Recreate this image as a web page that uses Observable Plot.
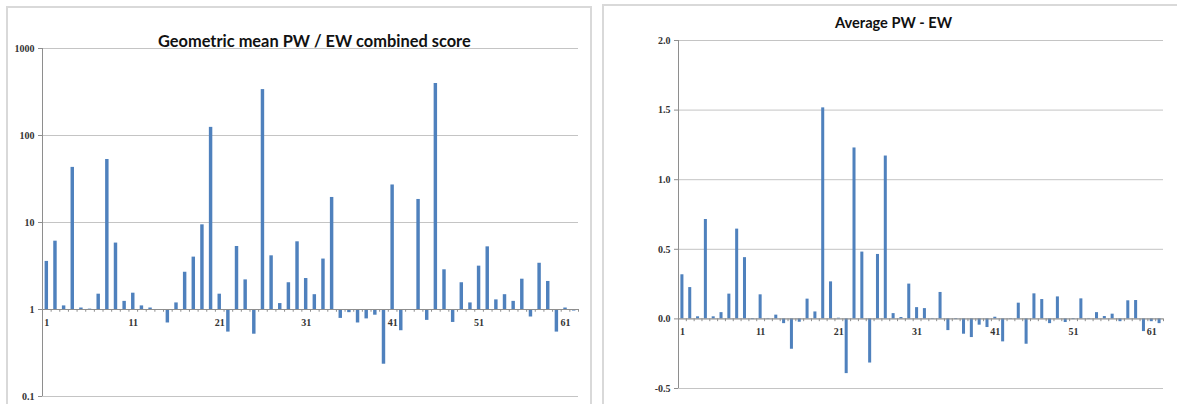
<!DOCTYPE html>
<html><head><meta charset="utf-8">
<script src="https://cdn.jsdelivr.net/npm/d3@7"></script>
<script src="https://cdn.jsdelivr.net/npm/@observablehq/plot@0.6"></script>
<style>
html,body{margin:0;padding:0;background:#fff}
body{width:1177px;height:404px;overflow:hidden;position:relative;font-family:Lato,sans-serif}
.panel{position:absolute;border:2px solid #d9d9d9;background:#fff;box-sizing:border-box}
.chart{position:absolute;top:0}
.title{position:absolute;font-weight:bold;white-space:nowrap;color:#111;line-height:1;font-family:Lato,"Open Sans",sans-serif}
</style></head><body>
<div class="panel" style="left:6px;top:6px;width:586px;height:420px"></div>
<div class="panel" style="left:602px;top:4px;width:600px;height:420px"></div>
<div id="left" class="chart" style="left:0px"></div>
<div id="right" class="chart" style="left:600px"></div>
<div class="title" style="left:158px;top:33px;font-size:16.4px">Geometric mean PW / EW combined score</div>
<div class="title" style="left:835px;top:16px;font-size:14.6px">Average PW - EW</div>
<script>
const categories = [1,2,3,4,5,6,7,8,9,10,11,12,13,14,15,16,17,18,19,20,21,22,23,24,25,26,27,28,29,30,31,32,33,34,35,36,37,38,39,40,41,42,43,44,45,46,47,48,49,50,51,52,53,54,55,56,57,58,59,60,61,62];
const geoMeanScore = [3.57,6.1,1.1,43,1.04,1.01,1.5,53,5.8,1.24,1.54,1.1,1.04,0.98,0.70,1.19,2.68,4.0,9.4,124,1.5,0.55,5.3,2.19,0.52,337,4.14,1.17,2.03,6.0,2.27,1.48,3.8,19.4,0.79,0.92,0.70,0.78,0.86,0.235,27,0.57,0.98,18.4,0.75,396,2.86,0.71,2.03,1.19,3.15,5.25,1.29,1.48,1.24,2.23,0.82,3.4,2.1,0.55,1.04,0.96];
const avgDiff = [0.317,0.225,0.015,0.714,0.015,0.045,0.178,0.645,0.44,-0.005,0.173,0.003,0.027,-0.034,-0.218,-0.024,0.142,0.05,1.516,0.266,0.005,-0.393,1.228,0.48,-0.317,0.463,1.17,0.038,0.01,0.25,0.081,0.074,0.003,0.19,-0.084,-0.005,-0.11,-0.134,-0.045,-0.062,0.012,-0.165,-0.003,0.113,-0.182,0.18,0.139,-0.034,0.158,-0.026,-0.005,0.144,0.003,0.045,0.017,0.034,-0.02,0.13,0.132,-0.091,-0.02,-0.034];
const xTickLabels = [1,11,21,31,41,51,61];
const leftTicks = [0.1,1,10,100,1000];
const rightTicks = [-0.5,0,0.5,1.0,1.5,2.0];

const barColor = "#4f81bd";
const gridColor = "#c4c4c4";
const axisColor = "#8e8e8e";
const fontFam = "Liberation Serif, DejaVu Serif, serif";

const leftData = categories.map((c,i)=>({cat:c, v:geoMeanScore[i]}));
const rightData = categories.map((c,i)=>({cat:c, v:avgDiff[i]}));
const boundaries = categories.map(c=>c-0.5).concat([categories[categories.length-1]+0.5]);

const left = Plot.plot({
  width: 600, height: 404,
  marginLeft: 42, marginRight: 22, marginTop: 48, marginBottom: 8,
  x: {type: "linear", domain: [0.5, 62.5], axis: null},
  y: {type: "log", domain: [0.1, 1000], axis: null},
  style: {background: "transparent", overflow: "visible"},
  marks: [
    Plot.ruleY(leftTicks, {stroke: gridColor}),
    Plot.ruleX([0.5], {stroke: axisColor}),
    Plot.axisY(leftTicks, {label: null, tickFormat: d => String(d), tickSize: 4, tickPadding: 4, fontSize: 10, fontFamily: fontFam, fontWeight: "bold", stroke: axisColor, fill: "#333"}),
    Plot.rectY(leftData, {x1: d => d.cat - 0.5, x2: d => d.cat + 0.5, y1: 1, y2: "v", insetLeft: 2.6, insetRight: 2.6, fill: barColor}),
    Plot.ruleY([1], {stroke: axisColor}),
    Plot.ruleX(boundaries, {y1: 1, y2: 0.93, stroke: axisColor}),
    Plot.text(xTickLabels, {x: d => d, y: 1, dy: 13, text: d => String(d), fontSize: 10, fontFamily: fontFam, fontWeight: "bold", fill: "#333"})
  ]
});
document.getElementById("left").appendChild(left);

const right = Plot.plot({
  width: 577, height: 404,
  marginLeft: 78, marginRight: 14, marginTop: 40, marginBottom: 16,
  x: {type: "linear", domain: [0.5, 62.5], axis: null},
  y: {type: "linear", domain: [-0.5, 2.0], axis: null},
  style: {background: "transparent", overflow: "visible"},
  marks: [
    Plot.ruleY(rightTicks, {stroke: gridColor}),
    Plot.ruleX([0.5], {stroke: axisColor}),
    Plot.axisY(rightTicks, {label: null, tickFormat: d => d.toFixed(1), tickSize: 4, tickPadding: 4, fontSize: 10, fontFamily: fontFam, fontWeight: "bold", stroke: axisColor, fill: "#333"}),
    Plot.rectY(rightData, {x1: d => d.cat - 0.5, x2: d => d.cat + 0.5, y1: 0, y2: "v", insetLeft: 2.4, insetRight: 2.4, fill: barColor}),
    Plot.ruleY([0], {stroke: axisColor}),
    Plot.ruleX(boundaries, {y1: 0, y2: -0.02, stroke: axisColor}),
    Plot.text(xTickLabels, {x: d => d, y: 0, dy: 13, text: d => String(d), fontSize: 10, fontFamily: fontFam, fontWeight: "bold", fill: "#333"})
  ]
});
document.getElementById("right").appendChild(right);
</script>
</body></html>
